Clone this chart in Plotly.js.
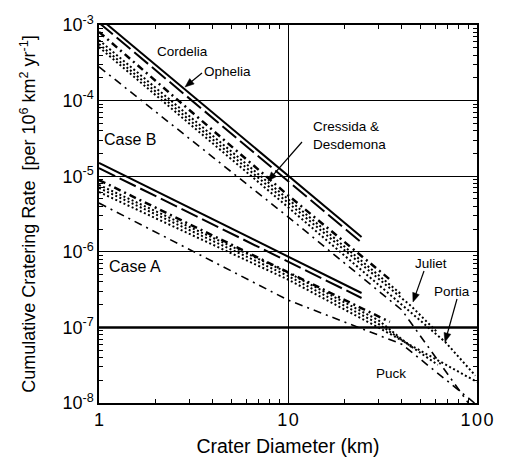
<!DOCTYPE html>
<html>
<head>
<meta charset="utf-8">
<script src="https://cdn.plot.ly/plotly-3.0.1.min.js"></script>
<style>html,body{margin:0;padding:0;background:#fff}#plot{width:519px;height:470px}</style>
</head>
<body>
<div id="plot"></div>
<script>
// ---- Case B (upper family) ----
const cordeliaB_x = [1, 10, 24.5];
const cordeliaB_y = [1.25e-3, 1.0e-5, 1.57e-6];
const opheliaB_x = [1, 10, 24.5];
const opheliaB_y = [1.07e-3, 8.6e-6, 1.32e-6];
const biancaB_x = [1, 10, 35];
const biancaB_y = [8.1e-4, 5.6e-6, 4.2e-7];
const cressidaB_x = [1, 10, 40];
const cressidaB_y = [6.3e-4, 5.0e-6, 2.7e-7];
const julietB_x = [1, 10, 45, 62];
const julietB_y = [5.6e-4, 4.4e-6, 1.9e-7, 8.5e-8];
const portiaB_x = [1, 10, 68, 98];
const portiaB_y = [5.1e-4, 3.9e-6, 6.4e-8, 2.3e-8];
const puckB_x = [1, 10, 40, 90];
const puckB_y = [2.8e-4, 2.9e-6, 1.7e-7, 1.0e-8];
// ---- Case A (lower family) ----
const cordeliaA_x = [1, 24.5];
const cordeliaA_y = [1.5e-5, 2.85e-7];
const opheliaA_x = [1, 24.5];
const opheliaA_y = [1.28e-5, 2.45e-7];
const biancaA_x = [1, 34.6];
const biancaA_y = [8.9e-6, 1.18e-7];
const cressidaA_x = [1, 10, 30, 45];
const cressidaA_y = [7.66e-6, 5.3e-7, 1.25e-7, 5.5e-8];
const julietA_x = [1, 10, 30, 62];
const julietA_y = [6.98e-6, 4.8e-7, 1.12e-7, 3.2e-8];
const portiaA_x = [1, 10, 30, 100];
const portiaA_y = [6.18e-6, 4.3e-7, 1.0e-7, 1.9e-8];
const puckA_x = [1, 10, 40, 97];
const puckA_y = [4.41e-6, 2.3e-7, 6.0e-8, 1.0e-8];

const yTickVals = [1e-3, 1e-4, 1e-5, 1e-6, 1e-7, 1e-8];
const yTickText = ['10<sup>-3</sup>','10<sup>-4</sup>','10<sup>-5</sup>','10<sup>-6</sup>','10<sup>-7</sup>','10<sup>-8</sup>'];
const xTickVals = [1, 10, 100];
const xTickText = ['1', '1\u200A0', '1\u200A0\u200A0'];
const xMinor = [2,3,4,5,6,7,8,9,20,30,40,50,60,70,80,90];
const yMinor = [];
[-8,-7,-6,-5,-4].forEach(function(e){ for (let k=2;k<=9;k++) yMinor.push(k*Math.pow(10,e)); });

const STY = {
  cordelia: {color:'#000', width:2, dash:'solid'},
  ophelia: {color:'#000', width:2, dash:'18px,5px'},
  bianca: {color:'#000', width:2.5, dash:'7px,4px,2px,4px'},
  dotted: {color:'#000', width:2, dash:'2px,2.5px'},
  puck: {color:'#000', width:1.6, dash:'8px,5px,2px,5px'}
};
function tr(x, y, s) { return {x:x, y:y, type:'scatter', mode:'lines', line:s, showlegend:false, hoverinfo:'skip'}; }

const data = [
  tr(cordeliaB_x, cordeliaB_y, STY.cordelia),
  tr(opheliaB_x, opheliaB_y, STY.ophelia),
  tr(biancaB_x, biancaB_y, STY.bianca),
  tr(cressidaB_x, cressidaB_y, STY.dotted),
  tr(julietB_x, julietB_y, STY.dotted),
  tr(portiaB_x, portiaB_y, STY.dotted),
  tr(puckB_x, puckB_y, STY.puck),
  tr(cordeliaA_x, cordeliaA_y, STY.cordelia),
  tr(opheliaA_x, opheliaA_y, STY.ophelia),
  tr(biancaA_x, biancaA_y, STY.bianca),
  tr(cressidaA_x, cressidaA_y, STY.dotted),
  tr(julietA_x, julietA_y, STY.dotted),
  tr(portiaA_x, portiaA_y, STY.dotted),
  tr(puckA_x, puckA_y, STY.puck)
];

const F = 'Liberation Sans, Arial, Helvetica, sans-serif';
const lab = {family:F, size:13.5, color:'#000'};
function px(p){ return (p-99)/378; }
function py(p){ return (403-p)/378; }
function note(text, x, y, opts) {
  return Object.assign({text:text, x:px(x), y:py(y), xref:'paper', yref:'paper', xanchor:'center', yanchor:'middle', showarrow:false, font:lab}, opts||{});
}
// arrows as shapes (tail -> tip, pixel coords)
function arrow(tx, ty, hx, hy) {
  const dx = hx-tx, dy = hy-ty, L = Math.sqrt(dx*dx+dy*dy);
  const ux = dx/L, uy = dy/L, hl = 9, hw = 3.5;
  const bx = hx-ux*hl, by = hy-uy*hl;
  const p1x = bx - uy*hw, p1y = by + ux*hw, p2x = bx + uy*hw, p2y = by - ux*hw;
  return [
    {type:'line', xref:'paper', yref:'paper', x0:px(tx), y0:py(ty), x1:px(bx+ux*2), y1:py(by+uy*2), line:{color:'#000', width:1.2}},
    {type:'path', xref:'paper', yref:'paper', path:'M '+px(hx)+' '+py(hy)+' L '+px(p1x)+' '+py(p1y)+' L '+px(p2x)+' '+py(p2y)+' Z', fillcolor:'#000', line:{color:'#000', width:0.5}}
  ];
}

const annotations = [
  note('Cordelia', 182, 51),
  note('Ophelia', 227, 72),
  note('Case B', 130, 139, {font:{family:F, size:16, color:'#000'}}),
  note('Case A', 135, 266, {font:{family:F, size:16, color:'#000'}}),
  note('Cressida &', 311, 126, {xanchor:'left'}),
  note('Desdemona', 311, 144, {xanchor:'left'}),
  note('Juliet', 431, 263),
  note('Portia', 452, 291),
  note('Puck', 391, 373)
];

const shapes = [
  {type:'line', xref:'paper', yref:'y', x0:0, x1:1, y0:1e-7, y1:1e-7, line:{color:'#000', width:2.5}}
].concat(arrow(202,73,185,87), arrow(302,142,268,181), arrow(424,271,413,302), arrow(457,299,445,342));

const layout = {
  width:519, height:470,
  margin:{l:99, r:42, t:25, b:67},
  paper_bgcolor:'#fff', plot_bgcolor:'#fff',
  font:{family:F, color:'#000'},
  showlegend:false,
  xaxis:{
    type:'log', range:[0, 2], tickmode:'array', tickvals:xTickVals, ticktext:xTickText,
    ticks:'inside', ticklen:7, tickcolor:'#000', tickwidth:1,
    showgrid:true, gridcolor:'#000', gridwidth:1,
    showline:true, linecolor:'#000', linewidth:1.5, mirror:'allticks',
    zeroline:false, tickfont:{family:F, size:18, color:'#000'},
    minor:{tickmode:'array', tickvals:xMinor, ticks:'inside', ticklen:4, tickcolor:'#000', showgrid:false},
    title:{text:'Crater Diameter (km)', font:{family:F, size:19.5, color:'#000'}, standoff:10}
  },
  yaxis:{
    type:'log', range:[-8, -3], tickmode:'array', tickvals:yTickVals, ticktext:yTickText,
    ticks:'inside', ticklen:7, tickcolor:'#000', tickwidth:1,
    showgrid:true, gridcolor:'#000', gridwidth:1,
    showline:true, linecolor:'#000', linewidth:1.5, mirror:'allticks',
    zeroline:false, tickfont:{family:F, size:18, color:'#000'},
    minor:{tickmode:'array', tickvals:yMinor, ticks:'inside', ticklen:4, tickcolor:'#000', showgrid:false},
    title:{text:'Cumulative Cratering Rate  [per 10<sup>6</sup> km<sup>2</sup> yr<sup>-1</sup>]', font:{family:F, size:18, color:'#000'}, standoff:22}
  },
  shapes:shapes,
  annotations:annotations
};

Plotly.newPlot('plot', data, layout, {displayModeBar:false});
</script>
</body>
</html>
